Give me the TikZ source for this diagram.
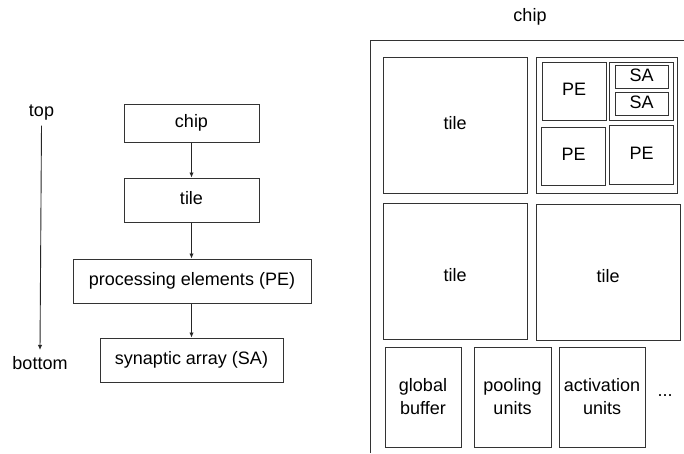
\documentclass[tikz,border=0pt]{standalone}
\usepackage{fontspec}
\setmainfont{Liberation Sans}
\usetikzlibrary{arrows.meta}
\begin{document}
\begin{tikzpicture}[x=1pt,y=-1pt,
  txt/.style={font=\fontsize{18}{23}\selectfont},
  box/.style={txt, draw=black!80, line width=1pt, inner sep=0pt,
    text height=13pt, text depth=3.8pt},
  tallbox/.style={txt, draw=black!80, line width=1pt, inner sep=0pt, align=center},
  lbl/.style={txt, inner sep=0pt, text height=13pt, text depth=3.8pt},
  link/.style={draw=black!85, line width=0.9pt, -{Latex[length=5pt,width=4.5pt]}}]
\useasboundingbox (0,0) rectangle (684,453);

% ---- hierarchy, top to bottom ----
\node[lbl] (top) at (41.5,112) {top};
\node[lbl] (bottom) at (40,365) {bottom};
\draw[link] ([yshift=-5pt]top.south) -- ([yshift=6.5pt]bottom.north);

\node[box, minimum width=135pt, minimum height=38pt] (chip) at (191.5,123) {chip};
\node[box, minimum width=135pt, minimum height=44pt] (tile) at (191.5,200) {tile};
\node[box, minimum width=238pt, minimum height=44pt] (pe) at (192,281) {processing elements (PE)};
\node[box, minimum width=183pt, minimum height=44pt] (sa) at (191.5,360) {synaptic array (SA)};

\draw[link] (chip.south) -- (tile.north);
\draw[link] (tile.south) -- (tile.south |- pe.north);
\draw[link] (pe.south -| tile.south) -- (tile.south |- sa.north);

% ---- chip floor plan ----
\node[lbl] (chiplabel) at (530,17) {chip};
\coordinate (cornerL) at (370,453);
\coordinate (cornerTL) at (370,40);
\coordinate (cornerR) at (684,40);
\draw[black!80, line width=1pt] (cornerL) -- (cornerTL) -- (cornerR);

\node[box, minimum width=144pt, minimum height=136pt] (tileA) at (455,125) {tile};
\node[box, minimum width=141pt, minimum height=136pt] (tileB) at (606.5,125) {};
\node[box, minimum width=64pt, minimum height=58pt] (peA) at (574,91) {PE};
\node[box, minimum width=64pt, minimum height=58pt] (saGroup) at (641,91) {};
\node[box, minimum width=53pt, minimum height=22.5pt] (saA) at (641.5,77.2) {SA};
\node[box, minimum width=53pt, minimum height=22.5pt] (saB) at (641.5,104.2) {SA};
\node[box, minimum width=63.5pt, minimum height=58pt] (peB) at (573.7,156) {PE};
\node[box, minimum width=63.5pt, minimum height=58.5pt] (peC) at (641.7,155.2) {PE};

\node[box, minimum width=144pt, minimum height=136pt] (tileC) at (455,271) {\raisebox{-6pt}{tile}};
\node[box, minimum width=144pt, minimum height=136pt] (tileD) at (608,272) {\raisebox{-6pt}{tile}};

\node[tallbox, minimum width=76pt, minimum height=100pt] (gbuf) at (423,397) {global\\buffer};
\node[tallbox, minimum width=77pt, minimum height=100pt] (pool) at (512.5,397) {pooling\\units};
\node[tallbox, minimum width=86pt, minimum height=100pt] (act) at (602,397) {activation\\units};
\node[lbl] (more) at (665,392) {...};
\end{tikzpicture}
\end{document}
